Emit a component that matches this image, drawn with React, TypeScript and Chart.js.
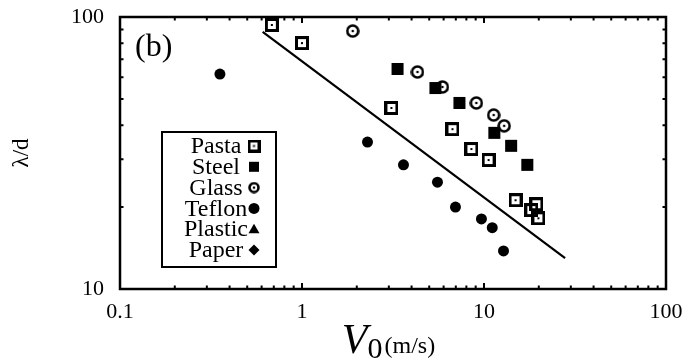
import { useEffect, useRef } from "react";
import { Chart, registerables } from "chart.js";

Chart.register(...registerables);

const FONT = "'Liberation Serif', 'Times New Roman', serif";

// Data (V0 in m/s, lambda/d)
const pastaV0 = [0.683, 1.0, 3.1, 6.71, 8.53, 10.6, 14.9, 19.4, 18.2, 19.9];
const pastaLambda = [93.5, 80.2, 46.3, 38.7, 32.7, 29.8, 21.2, 20.5, 19.5, 18.2];
const steelV0 = [3.35, 5.41, 7.33, 11.4, 14.1, 17.3];
const steelLambda = [64.4, 54.8, 48.3, 37.5, 33.6, 28.6];
const glassV0 = [1.9, 4.31, 5.91, 9.08, 11.3, 12.9];
const glassLambda = [88.8, 62.8, 55.3, 48.3, 43.6, 39.8];
const teflonV0 = [0.354, 2.29, 3.61, 5.55, 6.97, 9.68, 11.1, 12.8];
const teflonLambda = [61.7, 34.7, 28.6, 24.7, 20.0, 18.1, 16.8, 13.8];
const fitV0 = [0.608, 27.9];
const fitLambda = [88.1, 13.0];

const materials = ["Pasta", "Steel", "Glass", "Teflon", "Plastic", "Paper"];
const xMajorTicks = [0.1, 1, 10, 100];
const yMajorTicks = [10, 100];
const minorMultipliers = [2, 3, 4, 5, 6, 7, 8, 9];
const panelLabel = "(b)";
const yTitle = "λ/d";
const xTitleMain = "V";
const xTitleSub = "0";
const xTitleUnit = "(m/s)";

function logTicks(majors: number[]) {
  const out: any[] = [];
  majors.forEach((m, i) => {
    out.push({ value: m, major: true });
    if (i < majors.length - 1) {
      minorMultipliers.forEach((k) => out.push({ value: +(m * k).toPrecision(6), major: false }));
    }
  });
  return out;
}

const pts = (xs: number[], ys: number[]) => xs.map((x, i) => ({ x, y: ys[i] }));

function makeMarker(kind: string, size: number) {
  const c = document.createElement("canvas");
  c.width = size;
  c.height = size;
  const g = c.getContext("2d")!;
  g.strokeStyle = "#000";
  g.fillStyle = "#000";
  if (kind === "square") {
    const lw = 3;
    g.lineWidth = lw;
    g.strokeRect(lw / 2, lw / 2, size - lw, size - lw);
    g.fillRect(size / 2 - 1, size / 2 - 1, 2, 2);
  } else {
    g.lineWidth = 2.6;
    g.beginPath();
    g.arc(size / 2, size / 2, size / 2 - 1.5, 0, Math.PI * 2);
    g.stroke();
    g.beginPath();
    g.arc(size / 2, size / 2, 1.3, 0, Math.PI * 2);
    g.fill();
  }
  return c;
}

function drawLegendMarker(ctx: CanvasRenderingContext2D, name: string, x: number, y: number, imgs: any) {
  ctx.fillStyle = "#000";
  if (name === "Pasta") {
    const im = imgs.pastaSmall;
    ctx.drawImage(im, x - im.width / 2, y - im.height / 2);
  } else if (name === "Glass") {
    const im = imgs.glassSmall;
    ctx.drawImage(im, x - im.width / 2, y - im.height / 2);
  } else if (name === "Steel") {
    ctx.fillRect(x - 5, y - 5, 10, 10);
  } else if (name === "Teflon") {
    ctx.beginPath();
    ctx.arc(x, y, 5.5, 0, Math.PI * 2);
    ctx.fill();
  } else if (name === "Plastic") {
    ctx.beginPath();
    ctx.moveTo(x, y - 5.5);
    ctx.lineTo(x + 5.5, y + 4);
    ctx.lineTo(x - 5.5, y + 4);
    ctx.closePath();
    ctx.fill();
  } else if (name === "Paper") {
    ctx.beginPath();
    ctx.moveTo(x, y - 5.5);
    ctx.lineTo(x + 5.5, y);
    ctx.lineTo(x, y + 5.5);
    ctx.lineTo(x - 5.5, y);
    ctx.closePath();
    ctx.fill();
  }
}

export default function App() {
  const ref = useRef<HTMLCanvasElement>(null);

  useEffect(() => {
    const canvas = ref.current!;
    const imgs = {
      pasta: makeMarker("square", 14),
      pastaSmall: makeMarker("square", 13),
      glass: makeMarker("circle", 14),
      glassSmall: makeMarker("circle", 12),
    };

    const decorPlugin = {
      id: "decor",
      afterDraw(chart: any) {
        const ctx: CanvasRenderingContext2D = chart.ctx;
        const { left, right, top, bottom } = chart.chartArea;
        const xs = chart.scales.x;
        const ys = chart.scales.y;
        ctx.save();
        ctx.strokeStyle = "#000";
        ctx.fillStyle = "#000";
        ctx.lineWidth = 2;
        // inward ticks on all four sides
        xs.ticks.forEach((t: any) => {
          const p = xs.getPixelForValue(t.value);
          if (p <= left + 1 || p >= right - 1) return;
          const len = t.major ? 6 : 3.5;
          ctx.beginPath();
          ctx.moveTo(p, bottom);
          ctx.lineTo(p, bottom - len);
          ctx.moveTo(p, top);
          ctx.lineTo(p, top + len);
          ctx.stroke();
        });
        ys.ticks.forEach((t: any) => {
          const p = ys.getPixelForValue(t.value);
          if (p <= top + 1 || p >= bottom - 1) return;
          const len = t.major ? 6 : 3.5;
          ctx.beginPath();
          ctx.moveTo(left, p);
          ctx.lineTo(left + len, p);
          ctx.moveTo(right, p);
          ctx.lineTo(right - len, p);
          ctx.stroke();
        });
        // frame
        ctx.lineWidth = 2.5;
        ctx.strokeRect(left, top, right - left, bottom - top);

        // panel label
        ctx.font = `32px ${FONT}`;
        ctx.textAlign = "left";
        ctx.textBaseline = "alphabetic";
        ctx.fillText(panelLabel, left + 15, top + 39);

        // legend box
        const bx = left + 42;
        const by = top + 115;
        const bw = 114;
        const bh = 135;
        ctx.fillStyle = "#fff";
        ctx.fillRect(bx, by, bw, bh);
        ctx.lineWidth = 2;
        ctx.strokeStyle = "#000";
        ctx.strokeRect(bx, by, bw, bh);
        ctx.fillStyle = "#000";
        ctx.font = `24px ${FONT}`;
        ctx.textAlign = "center";
        ctx.textBaseline = "middle";
        materials.forEach((name, i) => {
          const ry = by + 14 + i * 20.8;
          ctx.fillText(name, bx + 54, ry + 1);
          drawLegendMarker(ctx, name, bx + 92, ry, imgs);
        });

        // y title
        ctx.save();
        ctx.translate(22, (top + bottom) / 2);
        ctx.rotate(-Math.PI / 2);
        ctx.font = `23px ${FONT}`;
        ctx.textAlign = "center";
        ctx.textBaseline = "middle";
        ctx.fillText(yTitle, 0, 0);
        ctx.restore();

        // x title: V_0 (m/s)
        const cx = (left + right) / 2;
        ctx.textAlign = "left";
        ctx.textBaseline = "alphabetic";
        ctx.font = `italic 42px ${FONT}`;
        const wV = ctx.measureText(xTitleMain).width;
        ctx.font = `30px ${FONT}`;
        const w0 = ctx.measureText(xTitleSub).width;
        ctx.font = `24px ${FONT}`;
        const wU = ctx.measureText(xTitleUnit).width;
        let x0 = cx - (wV + w0 + wU + 3) / 2 - 4;
        ctx.font = `italic 42px ${FONT}`;
        ctx.fillText(xTitleMain, x0, 353);
        x0 += wV;
        ctx.font = `30px ${FONT}`;
        ctx.fillText(xTitleSub, x0, 358);
        x0 += w0 + 2;
        ctx.font = `24px ${FONT}`;
        ctx.fillText(xTitleUnit, x0, 353);

        ctx.restore();
      },
    };

    const chart = new Chart(canvas, {
      type: "scatter",
      data: {
        datasets: [
          {
            label: "fit",
            type: "line",
            data: pts(fitV0, fitLambda),
            borderColor: "#000",
            borderWidth: 2.2,
            pointRadius: 0,
            showLine: true,
            fill: false,
          } as any,
          {
            label: "Pasta",
            data: pts(pastaV0, pastaLambda),
            pointStyle: imgs.pasta as any,
            pointRadius: 7,
          },
          {
            label: "Steel",
            data: pts(steelV0, steelLambda),
            pointStyle: "rect",
            pointRadius: 8.5,
            backgroundColor: "#000",
            borderColor: "#000",
            borderWidth: 0,
          },
          {
            label: "Glass",
            data: pts(glassV0, glassLambda),
            pointStyle: imgs.glass as any,
            pointRadius: 7,
          },
          {
            label: "Teflon",
            data: pts(teflonV0, teflonLambda),
            pointStyle: "circle",
            pointRadius: 5.5,
            backgroundColor: "#000",
            borderColor: "#000",
            borderWidth: 0,
          },
          { label: "Plastic", data: [], pointStyle: "triangle", backgroundColor: "#000" },
          { label: "Paper", data: [], pointStyle: "rectRot", backgroundColor: "#000" },
        ],
      },
      options: {
        animation: false,
        responsive: false,
        events: [],
        layout: { padding: { left: 0, top: 17, right: 22, bottom: 0 } },
        plugins: { legend: { display: false }, tooltip: { enabled: false } },
        scales: {
          x: {
            type: "logarithmic",
            min: 0.1,
            max: 100,
            grid: { display: false, drawTicks: false },
            border: { display: false },
            afterBuildTicks: (s: any) => {
              s.ticks = logTicks(xMajorTicks);
            },
            afterFit: (s: any) => {
              s.height = 73;
              s.paddingLeft = 0;
              s.paddingRight = 0;
            },
            ticks: {
              autoSkip: false,
              maxRotation: 0,
              padding: 10,
              color: "#000",
              font: { family: FONT, size: 22 },
              callback: (v: any, i: number, t: any[]) => (t[i] && t[i].major ? String(v) : ""),
            },
          },
          y: {
            type: "logarithmic",
            min: 10,
            max: 100,
            grid: { display: false, drawTicks: false },
            border: { display: false },
            afterBuildTicks: (s: any) => {
              s.ticks = logTicks(yMajorTicks);
            },
            afterFit: (s: any) => {
              s.width = 120;
              s.paddingTop = 0;
              s.paddingBottom = 0;
            },
            ticks: {
              autoSkip: false,
              padding: 16,
              color: "#000",
              font: { family: FONT, size: 22 },
              callback: (v: any, i: number, t: any[]) => (t[i] && t[i].major ? String(v) : ""),
            },
          },
        },
      } as any,
      plugins: [decorPlugin],
    });
    return () => chart.destroy();
  }, []);

  return (
    <div style={{ position: "fixed", left: 0, top: 0, width: 688, height: 362, background: "#fff" }}>
      <canvas ref={ref} width={688} height={362} style={{ width: 688, height: 362, display: "block" }} />
    </div>
  );
}
